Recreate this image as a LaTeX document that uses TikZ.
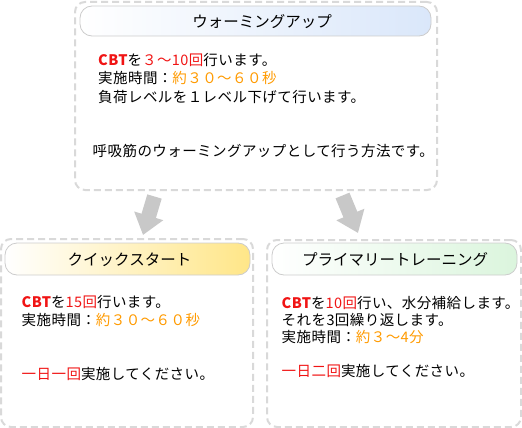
\documentclass[tikz,border=0pt]{standalone}
\usepackage{fontspec}
\usetikzlibrary{arrows.meta}
\newfontfamily\jp{Noto Sans CJK JP}
\newfontfamily\jpbody[LetterSpace=3]{Noto Sans CJK JP}
\definecolor{dashgray}{HTML}{D9D9D9}
\definecolor{bargray}{HTML}{CCCCCC}
\definecolor{arrowgray}{HTML}{C8C8C8}
\definecolor{hired}{HTML}{F01414}
\definecolor{hiorange}{HTML}{FF9A00}
\definecolor{barblue}{HTML}{DAE7FA}
\definecolor{baryellow}{HTML}{FFE688}
\definecolor{bargreen}{HTML}{DBF5DD}
\newcommand{\rd}[1]{\textcolor{hired}{#1}}
\newcommand{\og}[1]{\textcolor{hiorange}{#1}}
\newcommand{\cbt}{\textcolor{hired}{\bfseries CBT}}
\begin{document}
\begin{tikzpicture}[x=1pt,y=-1pt,
  panel/.style={draw=dashgray, line width=2pt, dash pattern=on 7pt off 4pt,
    rounded corners=10pt, inner sep=0pt},
  titlebar/.style={draw=bargray, line width=0.8pt, rounded corners=12pt, inner sep=0pt,
    left color=white},
  titletext/.style={font=\jp\fontsize{15.5}{18}\selectfont, inner sep=0pt},
  bodyline/.style={font=\jpbody\fontsize{14.5}{17}\selectfont, inner sep=0pt, anchor=base west},
  flow/.style={line width=15pt, draw=arrowgray, -{Triangle[width=29pt,length=20pt]}}]
\useasboundingbox (0,0) rectangle (522,428);

% panels
\node[panel, minimum width=362pt, minimum height=188pt] (top) at (256,96) {};
\node[panel, minimum width=252pt, minimum height=188pt] (left) at (127,333) {};
\node[panel, minimum width=254pt, minimum height=187pt] (right) at (394,333.5) {};

% title bars
\node[titlebar, right color=barblue, minimum width=351pt, minimum height=30pt] (tbar) at (255.5,21) {};
\node[titlebar, right color=baryellow, minimum width=245pt, minimum height=32pt] (lbar) at (127.5,259) {};
\node[titlebar, right color=bargreen, minimum width=245pt, minimum height=32pt] (rbar) at (394.5,259) {};

\node[titletext] (ttitle) at (262,22) {ウォーミングアップ};
\node[titletext] (ltitle) at (129.5,260) {クイックスタート};
\node[titletext] (rtitle) at (395,260) {プライマリートレーニング};

% top body
\node[bodyline] (t1) at (98,66) {\cbt を\rd{３～10回}行います。};
\node[bodyline] (t2) at (98,84) {実施時間：\og{約３０～６０秒}};
\node[bodyline] (t3) at (98,102) {負荷レベルを１レベル下げて行います。};
\node[bodyline] (t4) at (92.5,156) {呼吸筋のウォーミングアップとして行う方法です。};

% left body
\node[bodyline] (l1) at (21.5,307) {\cbt を\rd{15回}行います。};
\node[bodyline] (l2) at (21.5,325) {実施時間：\og{約３０～６０秒}};
\node[bodyline] (l3) at (21.5,379) {\rd{一日一回}実施してください。};

% right body
\node[bodyline] (r1) at (281.5,308) {\cbt を\rd{10回}行い、水分補給します。};
\node[bodyline] (r2) at (281.5,325) {それを3回繰り返します。};
\node[bodyline] (r3) at (281.5,342) {実施時間：\og{約３～4分}};
\node[bodyline] (r4) at (281.5,376) {\rd{一日二回}実施してください。};

% arrows
\coordinate (la0) at (154.5,196.5);
\coordinate (la1) at (143,235);
\coordinate (ra0) at (342.5,195.5);
\coordinate (ra1) at (358,233);
\draw[flow] (la0) -- (la1);
\draw[flow] (ra0) -- (ra1);
\end{tikzpicture}
\end{document}
